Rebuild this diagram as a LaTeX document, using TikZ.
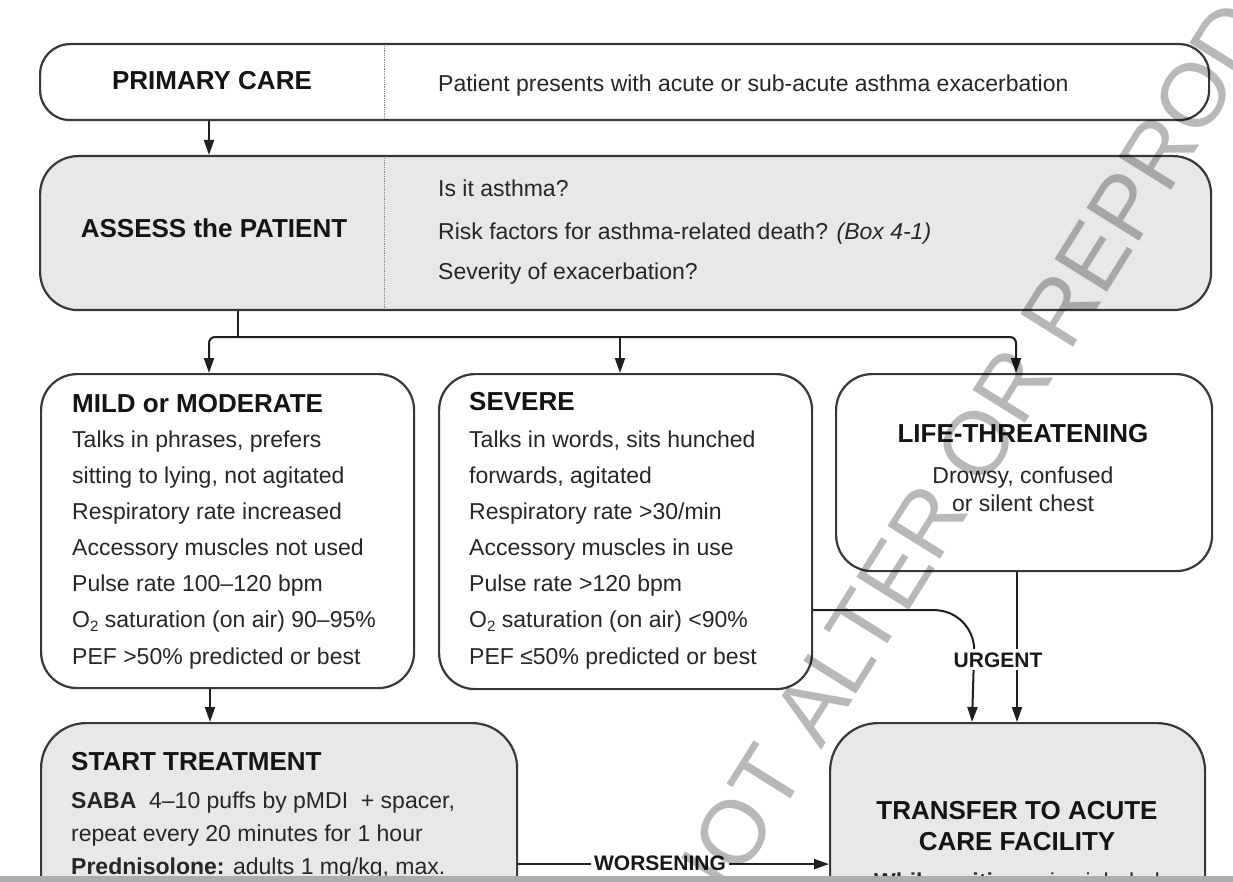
\documentclass[tikz,border=0pt]{standalone}
\usepackage{fontspec}
\setmainfont{Liberation Sans}
\usetikzlibrary{arrows.meta}
\newcommand\Otwo{O\raisebox{-0.35ex}{\fontsize{15}{15}\selectfont 2}}
\begin{document}
\begin{tikzpicture}[x=1pt,y=-1pt,
  box/.style={draw=black!78, line width=2.2pt, fill=white, rounded corners=36pt, inner sep=0pt, anchor=north west},
  gbox/.style={box, fill=black!9},
  divider/.style={draw=black!45, line width=0.8pt, densely dotted},
  conn/.style={draw=black!88, line width=2pt},
  arr/.style={conn, -{Triangle[length=15pt,width=10pt]}},
  hdr/.style={font=\fontsize{26}{30}\selectfont\bfseries, text=black!92, inner sep=0pt, anchor=base west},
  hdrc/.style={hdr, anchor=base},
  txt/.style={font=\fontsize{23}{28}\selectfont, text=black!85, inner sep=0pt, anchor=base west},
  txtc/.style={txt, anchor=base},
  lbl/.style={font=\fontsize{21}{24}\selectfont\bfseries, text=black!90, fill=white, inner sep=3pt, anchor=base}
]
\useasboundingbox (0,0) rectangle (1233,882);
\clip (0,0) rectangle (1233,882);
\fill[white] (0,0) rectangle (1233,882);

% ---- boxes
\node[box, rounded corners=30pt, minimum width=1169pt, minimum height=76pt] (pc) at (39,43) {};
\node[gbox, rounded corners=38pt, minimum width=1171pt, minimum height=154pt] (assess) at (39,155) {};
\node[box, minimum width=373pt, minimum height=314pt] (mild) at (40,373) {};
\node[box, minimum width=373pt, minimum height=315pt] (severe) at (438,373) {};
\node[box, minimum width=376pt, minimum height=197pt] (life) at (835,373) {};
\node[gbox, rounded corners=45pt, minimum width=476pt, minimum height=220pt] (start) at (40,722) {};
\node[gbox, rounded corners=48pt, minimum width=375pt, minimum height=220pt] (transfer) at (829,722) {};

\draw[divider] ([xshift=345pt,yshift=-3pt]pc.north west) -- ([xshift=345pt,yshift=3pt]pc.south west);
\draw[divider] ([xshift=345pt,yshift=-3pt]assess.north west) -- ([xshift=345pt,yshift=3pt]assess.south west);

% ---- texts: top boxes
\node[hdrc] (pct) at (212,90) {PRIMARY CARE};
\node[txt] (pcr) at (438,92) {Patient presents with acute or sub-acute asthma exacerbation};
\node[hdrc] (ast) at (214,238) {ASSESS the PATIENT};
\node[txt] (as1) at (438,197) {Is it asthma?};
\node[txt] (as2) at (438,240) {Risk factors for asthma-related death? \textit{(Box 4-1)}};
\node[txt] (as3) at (438,280) {Severity of exacerbation?};

% ---- mild
\node[hdr] (mh) at (72,412) {MILD or MODERATE};
\node[txt] (m1) at (72,447) {Talks in phrases, prefers};
\node[txt] (m2) at (72,483) {sitting to lying, not agitated};
\node[txt] (m3) at (72,519) {Respiratory rate increased};
\node[txt] (m4) at (72,555) {Accessory muscles not used};
\node[txt] (m5) at (72,591) {Pulse rate 100–120 bpm};
\node[txt] (m6) at (72,627) {\Otwo\ saturation (on air) 90–95\%};
\node[txt] (m7) at (72,664) {PEF >50\% predicted or best};

% ---- severe
\node[hdr] (sh) at (469,410) {SEVERE};
\node[txt] (s1) at (469,447) {Talks in words, sits hunched};
\node[txt] (s2) at (469,483) {forwards, agitated};
\node[txt] (s3) at (469,519) {Respiratory rate >30/min};
\node[txt] (s4) at (469,555) {Accessory muscles in use};
\node[txt] (s5) at (469,591) {Pulse rate >120 bpm};
\node[txt] (s6) at (469,627) {\Otwo\ saturation (on air) <90\%};
\node[txt] (s7) at (469,664) {PEF ≤50\% predicted or best};

% ---- life threatening
\node[hdrc] (lh) at (1023,442) {LIFE-THREATENING};
\node[txtc] (l1) at (1023,483) {Drowsy, confused};
\node[txtc] (l2) at (1023,511) {or silent chest};

% ---- start treatment
\node[hdr] (sth) at (71,770) {START TREATMENT};
\node[txt] (st1) at (71,808) {\textbf{SABA}\ \ 4–10 puffs by pMDI\ \ + spacer,};
\node[txt] (st2) at (71,841) {repeat every 20 minutes for 1 hour};
\node[txt] (st3) at (71,874) {\textbf{Prednisolone:} adults 1 mg/kg, max.};

% ---- transfer
\node[hdrc] (th1) at (1017,819) {TRANSFER TO ACUTE};
\node[hdrc] (th2) at (1017,850) {CARE FACILITY};
\node[txtc] (tw) at (1017,889) {\textbf{While waiting:} give inhaled};

% ---- connectors
\draw[arr] ([xshift=170pt]pc.south west) -- ([xshift=170pt]assess.north west);
\coordinate (split) at (238,337);
\coordinate (mildtop) at ([xshift=169pt]mild.north west);
\coordinate (sevtop) at ([xshift=182pt]severe.north west);
\coordinate (lifetop) at ([xshift=181pt]life.north west);
\draw[conn] ([xshift=199pt]assess.south west) -- (split);
\draw[arr, rounded corners=6pt] (split) -| (mildtop);
\draw[arr, rounded corners=6pt] (split) -| (lifetop);
\draw[arr] (split -| sevtop) -- (sevtop);
\draw[arr] ([xshift=170pt]mild.south west) -- ([xshift=170pt]start.north west);

\coordinate (u1) at ([xshift=143pt]transfer.north west);
\coordinate (u2) at ([xshift=188pt]transfer.north west);
\draw[arr] ([yshift=-78.5pt]severe.east) -- ++(121pt,0) arc[start angle=90, end angle=0, radius=40pt] -- (u1);
\draw[arr] (life.south -| u2) -- (u2);
\node[lbl] (urg) at (998,667) {URGENT};

\draw[arr] ([yshift=-31pt]start.east) -- ([yshift=-31pt]transfer.west);
\node[lbl] (wors) at (660,870) {WORSENING};

% ---- watermark
\node[rotate=58, opacity=0.28, text=black, font=\fontsize{90}{90}\selectfont, inner sep=0pt] (wm) at (972,451) {DO NOT ALTER OR REPRODUCE};

% ---- bottom band
\fill[black!32] (0,876) rectangle (1233,882);
\end{tikzpicture}
\end{document}
